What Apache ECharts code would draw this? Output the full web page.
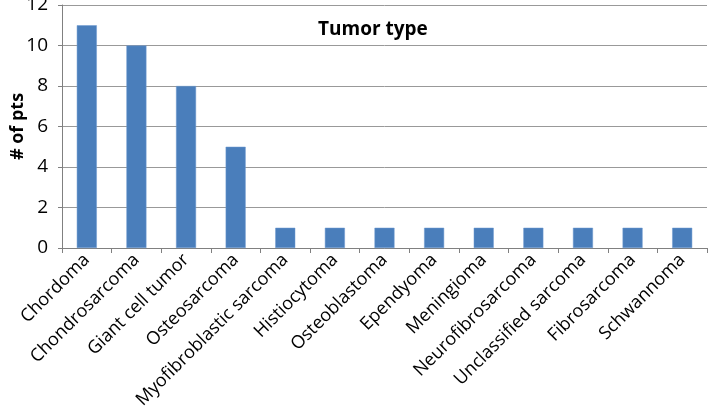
<!DOCTYPE html>
<html>
<head>
<meta charset="utf-8">
<script src="https://cdn.jsdelivr.net/npm/echarts@6/dist/echarts.min.js"></script>
<style>
  html, body { margin: 0; padding: 0; background: #fff; }
  #chart { width: 708px; height: 418px; }
</style>
</head>
<body>
<div id="chart"></div>
<script>
// 肿瘤类型
const tumorTypes = [
  'Chordoma', 'Chondrosarcoma', 'Giant cell tumor', 'Osteosarcoma',
  'Myofibroblastic sarcoma', 'Histiocytoma', 'Osteoblastoma', 'Ependyoma',
  'Meningioma', 'Neurofibrosarcoma', 'Unclassified sarcoma', 'Fibrosarcoma',
  'Schwannoma'
]
// 病例数
const ptsCount = [11, 10, 8, 5, 1, 1, 1, 1, 1, 1, 1, 1, 1]

const font = '"Open Sans", "Noto Sans", sans-serif'
const chart = echarts.init(document.getElementById('chart'))

const option = {
  animation: false,
  backgroundColor: '#fff',
  title: {
    text: 'Tumor type',
    left: 313,
    top: 15,
    textStyle: { fontFamily: font, fontSize: 19, fontWeight: 'bold', color: '#000' }
  },
  grid: {
    left: 62,
    right: 1,
    top: 5,
    bottom: 170,
    containLabel: false,
    outerBoundsMode: 'none'
  },
  xAxis: {
    type: 'category',
    data: tumorTypes,
    axisLine: { lineStyle: { color: '#808080', width: 1 } },
    axisTick: { show: true, length: 5, lineStyle: { color: '#808080' } },
    axisLabel: {
      rotate: 45,
      interval: 0,
      margin: 9,
      color: '#000',
      fontFamily: font,
      fontSize: 18
    }
  },
  yAxis: {
    type: 'value',
    min: 0,
    max: 12,
    interval: 2,
    name: '# of pts',
    nameLocation: 'middle',
    nameGap: 35,
    nameMoveOverlap: false,
    nameRotate: 90,
    nameTextStyle: { fontFamily: font, fontSize: 18, fontWeight: 'bold', color: '#000' },
    axisLine: { show: true, lineStyle: { color: '#808080', width: 1 } },
    axisTick: { show: true, length: 4, lineStyle: { color: '#808080' } },
    axisLabel: {
      margin: 14,
      color: '#000',
      fontFamily: font,
      fontSize: 19
    },
    splitLine: { show: true, lineStyle: { color: '#999', width: 1 } }
  },
  series: [
    {
      type: 'bar',
      data: ptsCount,
      barWidth: 20,
      itemStyle: { color: '#4a7ebb', borderColor: '#6f9bd0', borderWidth: 0.5 }
    }
  ]
}

chart.setOption(option)
</script>
</body>
</html>
